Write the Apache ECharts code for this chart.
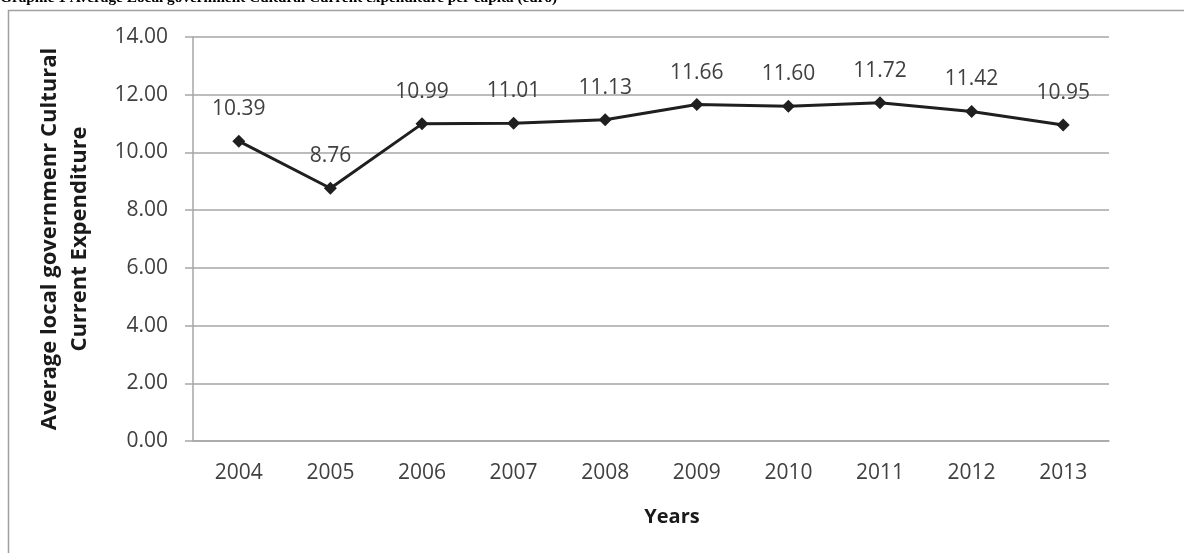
<!DOCTYPE html>
<html>
<head>
<meta charset="utf-8">
<script src="https://cdn.jsdelivr.net/npm/echarts@6/dist/echarts.min.js"></script>
<style>
html,body{margin:0;padding:0;background:#fff;}
#chart{width:1184px;height:553px;}
</style>
</head>
<body>
<div id="chart"></div>
<script>
var years = ['2004','2005','2006','2007','2008','2009','2010','2011','2012','2013'];
var expenditure = [10.39, 8.76, 10.99, 11.01, 11.13, 11.66, 11.60, 11.72, 11.42, 10.95];
var titleText = 'Graphic 1 Average Local government Cultural Current expenditure per capita (euro)';
var yAxisTitle = 'Average local governmenr Cultural\nCurrent Expenditure';
var xAxisTitle = 'Years';

var chart = echarts.init(document.getElementById('chart'), null, {renderer:'canvas'});
var labelFont = 'Open Sans';
chart.setOption({
  animation: false,
  backgroundColor: '#ffffff',
  graphic: [
    {type:'rect', z:-1, shape:{x:8.5, y:10.5, width:1300, height:700}, style:{fill:'none', stroke:'#a0a0a0', lineWidth:1.5}},
    {type:'text', x:0, y:-1.5, style:{text:titleText, font:'bold 15.3px "Liberation Serif"', fill:'#000', verticalAlign:'middle', align:'left'}}
  ],
  grid: {left:193, right:75, top:37, bottom:112, containLabel:false},
  xAxis: {
    type:'category', data: years, boundaryGap:true,
    name: xAxisTitle, nameLocation:'middle', nameGap:66,
    nameTextStyle:{fontFamily:labelFont, fontWeight:'bold', fontSize:20, color:'#1a1a1a', padding:[0,0,0,42]},
    axisLine:{lineStyle:{color:'#a6a6a6', width:1.5}},
    axisTick:{show:false},
    axisLabel:{fontFamily:labelFont, fontSize:21, color:'#404040', margin:22}
  },
  yAxis: {
    type:'value', min:0, max:14, interval:2,
    name: yAxisTitle, nameLocation:'middle', nameGap:98, nameRotate:90,
    nameTextStyle:{fontFamily:labelFont, fontWeight:'bold', fontSize:22, color:'#1a1a1a', lineHeight:30, align:'center'},
    axisLine:{show:true, lineStyle:{color:'#a6a6a6', width:1.5}},
    axisTick:{show:true, length:8, lineStyle:{color:'#a6a6a6', width:1.5}},
    splitLine:{lineStyle:{color:'#a6a6a6', width:1.5}},
    axisLabel:{fontFamily:labelFont, fontSize:21, color:'#404040', margin:25,
      formatter:function(v){return v.toFixed(2);}}
  },
  series: [{
    type:'line', data: expenditure,
    symbol:'diamond', symbolSize:13,
    lineStyle:{color:'#1f1f1f', width:3},
    itemStyle:{color:'#1f1f1f'},
    label:{show:true, position:'top', distance:15, fontFamily:labelFont, fontSize:21, color:'#404040',
      formatter:function(p){return p.value.toFixed(2);}}
  }]
});
</script>
</body>
</html>
